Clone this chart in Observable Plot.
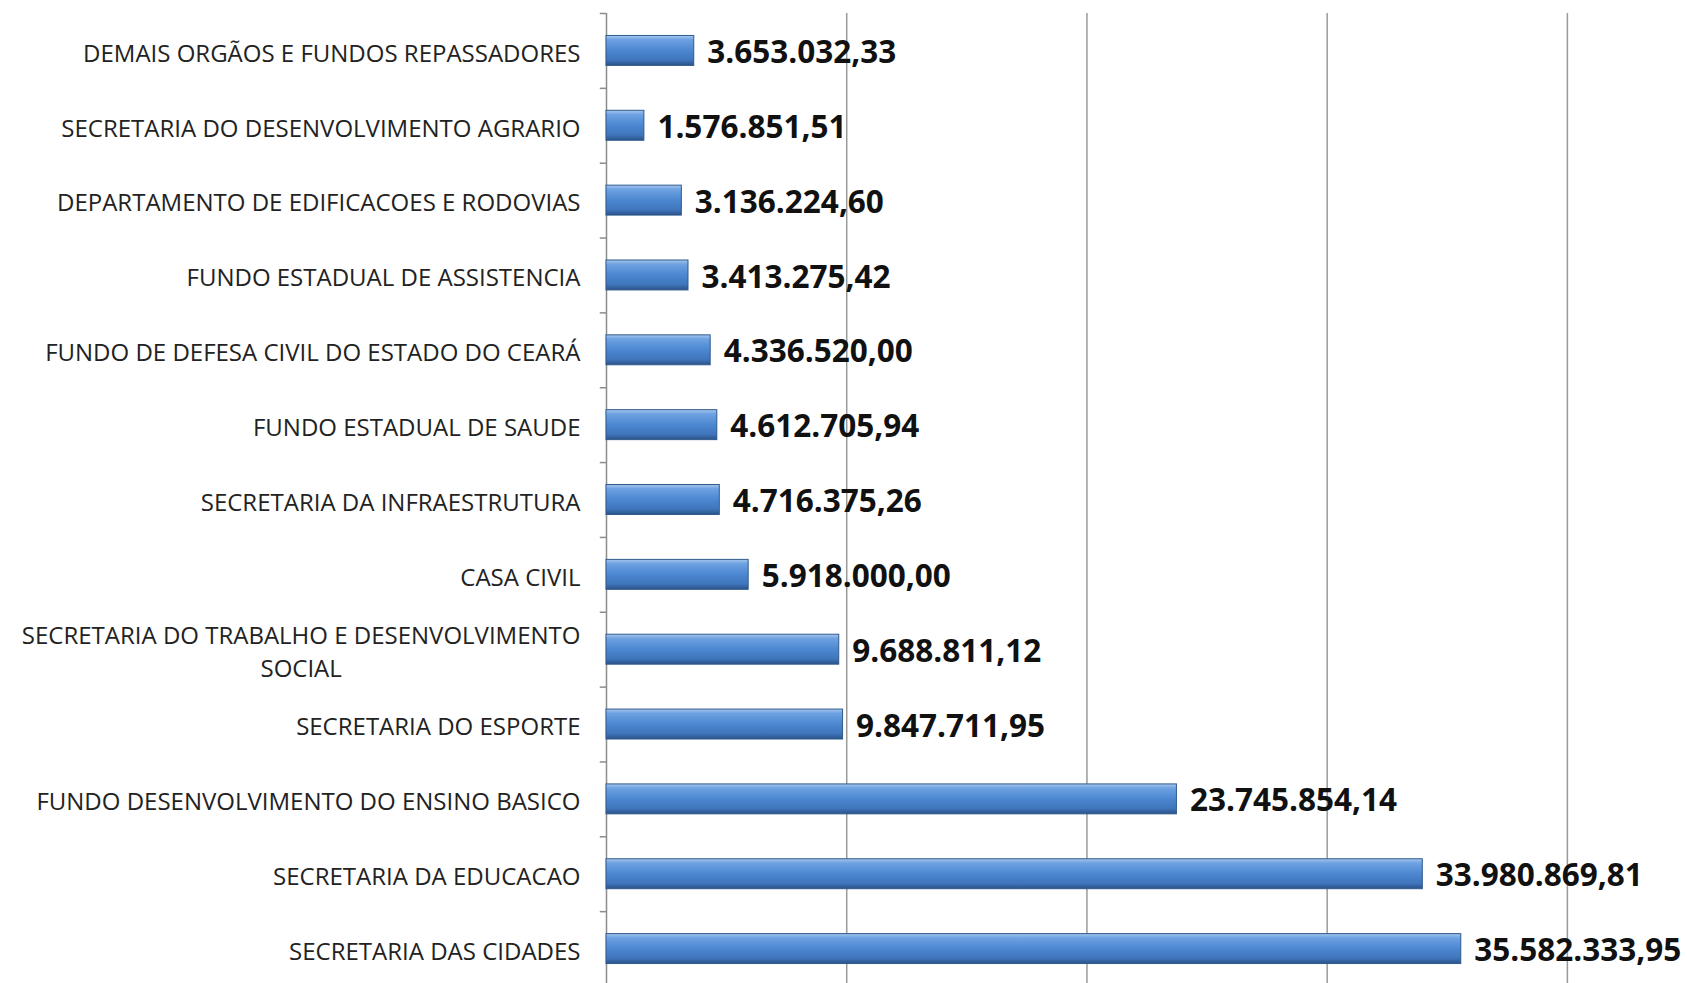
<!DOCTYPE html>
<html>
<head>
<meta charset="utf-8">
<script src="https://cdn.jsdelivr.net/npm/d3@7"></script>
<script src="https://cdn.jsdelivr.net/npm/@observablehq/plot@0.6"></script>
<style>
  html, body { margin: 0; padding: 0; background: #fff; overflow: hidden; }
  #chart svg { display: block; }
</style>
</head>
<body>
<div id="chart"></div>
<script>
// ---- data (top to bottom as drawn) ----
const categories = [
  "DEMAIS ORGÃOS E FUNDOS REPASSADORES",
  "SECRETARIA DO DESENVOLVIMENTO AGRARIO",
  "DEPARTAMENTO DE EDIFICACOES E RODOVIAS",
  "FUNDO ESTADUAL DE ASSISTENCIA",
  "FUNDO DE DEFESA CIVIL DO ESTADO DO CEARÁ",
  "FUNDO ESTADUAL DE SAUDE",
  "SECRETARIA DA INFRAESTRUTURA",
  "CASA CIVIL",
  "SECRETARIA DO TRABALHO E DESENVOLVIMENTO\nSOCIAL",
  "SECRETARIA DO ESPORTE",
  "FUNDO DESENVOLVIMENTO DO ENSINO BASICO",
  "SECRETARIA DA EDUCACAO",
  "SECRETARIA DAS CIDADES"
];
const values = [
  3653032.33,
  1576851.51,
  3136224.60,
  3413275.42,
  4336520.00,
  4612705.94,
  4716375.26,
  5918000.00,
  9688811.12,
  9847711.95,
  23745854.14,
  33980869.81,
  35582333.95
];
const gridTicks = [10000000, 20000000, 30000000, 40000000];

const data = categories.map((c, i) => ({name: c, value: values[i]}));
const br = d3.formatLocale({decimal: ",", thousands: ".", grouping: [3], currency: ["R$", ""]});
const fmt = br.format(",.2f");

const W = 1687, H = 986, mTop = 13, mBottom = 0, mLeft = 606, mRight = 0;
const step = (H - mTop - mBottom) / categories.length;

const chart = Plot.plot({
  width: W,
  height: H,
  marginTop: mTop,
  marginBottom: mBottom,
  marginLeft: mLeft,
  marginRight: mRight,
  style: {background: "#fff"},
  x: {domain: [0, 45000000], axis: null},
  y: {domain: categories, paddingInner: 0.6, paddingOuter: 0.3, round: false, label: null},
  marks: [
    Plot.gridX(gridTicks, {stroke: "#9a9a9a", strokeOpacity: 1, strokeWidth: 1.5}),
    Plot.ruleX([0], {stroke: "#8c8c8c", strokeWidth: 1.5}),
    Plot.ruleY(categories, {y: d => d, x1: -260000, x2: 0, dy: -step / 2, stroke: "#8c8c8c", strokeWidth: 1.5}),
    Plot.barX(data, {x: "value", y: "name", fill: "#4a7ec2", stroke: "#2f5a8c", strokeWidth: 1}),
    Plot.text(data, {
      x: "value", y: "name", text: d => fmt(d.value),
      textAnchor: "start", dx: 13, dy: 2,
      fontSize: 31.5, fontWeight: "bold", fontFamily: "Open Sans", fill: "#111"
    }),
    Plot.axisY({
      tickSize: 0, tickPadding: 26, fontSize: 24, fontFamily: "Open Sans",
      fill: "#222", label: null, lineHeight: 1.4
    })
  ]
});

document.getElementById("chart").appendChild(chart);

// gradient for the bevelled bars
const svg = d3.select(chart);
const defs = svg.insert("defs", ":first-child");
const g = defs.append("linearGradient").attr("id", "barGrad")
  .attr("x1", 0).attr("y1", 0).attr("x2", 0).attr("y2", 1);
[[0, "#a9c8ef"], [0.14, "#6ea2e2"], [0.5, "#4c87d1"], [0.82, "#3f75bb"], [1, "#2b5288"]]
  .forEach(([o, c]) => g.append("stop").attr("offset", o).attr("stop-color", c));
svg.selectAll("rect").filter(function() { return this.getAttribute("fill") === "#4a7ec2"; })
  .attr("fill", "url(#barGrad)");
svg.selectAll("g[fill='#4a7ec2']").attr("fill", "url(#barGrad)");

// centre the two-line label (as in the original)
svg.selectAll("text").each(function() {
  const tspans = this.querySelectorAll("tspan");
  if (tspans.length > 1) {
    let w = 0;
    tspans.forEach(t => { w = Math.max(w, t.getComputedTextLength()); });
    this.setAttribute("text-anchor", "middle");
    tspans.forEach(t => t.setAttribute("x", -w / 2));
  }
});
</script>
</body>
</html>
